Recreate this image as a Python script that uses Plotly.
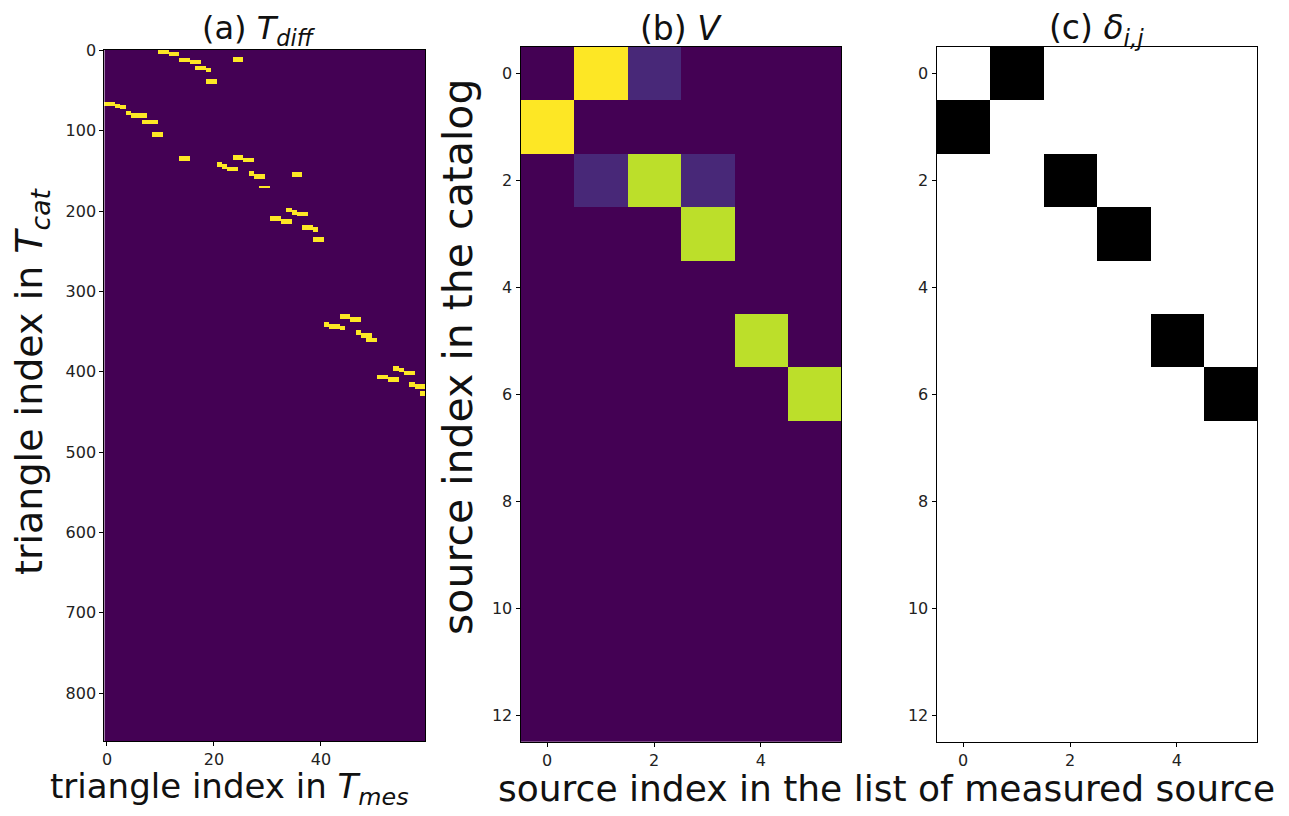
import numpy as np
import plotly.graph_objects as go

# ---------------- data ----------------
# (a) T_diff : 860 catalog triangles x 60 measured triangles, matches drawn as segments
n_cat_tri = 860
n_mes_tri = 60
seg_col_start = [10, 12, 14, 16, 17, 19, 19, 24, 0, 2, 3, 4, 5, 7, 9, 14, 24, 26, 21, 22, 23,
                 27, 28, 29, 35, 34, 35, 36, 31, 33, 37, 39, 39, 44, 46, 41, 42, 44, 47, 48,
                 49, 54, 55, 56, 51, 53, 57, 58, 59]
seg_col_end = [11, 13, 15, 17, 18, 19, 20, 25, 1, 2, 3, 4, 7, 9, 10, 15, 25, 27, 21, 22, 24,
               27, 29, 30, 36, 34, 35, 37, 32, 34, 38, 39, 40, 45, 47, 41, 43, 44, 47, 49,
               50, 54, 55, 57, 52, 54, 57, 59, 59]
seg_row_start = [0, 2, 10, 13, 20, 23, 36, 9, 65, 67, 69, 76, 79, 87, 102, 132, 131, 134, 139, 142, 145,
                 151, 154, 169, 152, 197, 199, 201, 207, 210, 218, 220, 233, 329, 332, 339, 341, 344, 349, 352,
                 358, 393, 396, 399, 404, 407, 413, 416, 424]
seg_row_end = [4, 6, 14, 17, 24, 27, 41, 14, 69, 71, 73, 80, 84, 91, 107, 137, 136, 139, 144, 147, 150,
               156, 159, 171, 157, 200, 204, 206, 212, 215, 223, 225, 238, 334, 337, 344, 346, 348, 354, 357,
               363, 398, 400, 404, 409, 412, 418, 421, 429]
seg_value = [1.0] * len(seg_col_start)

# (b) V : 13 catalog sources x 6 measured sources
V = [
    [0.0, 1.0, 0.11, 0.0, 0.0, 0.0],
    [1.0, 0.0, 0.0, 0.0, 0.0, 0.0],
    [0.0, 0.11, 0.9, 0.11, 0.0, 0.0],
    [0.0, 0.0, 0.0, 0.9, 0.0, 0.0],
    [0.0, 0.0, 0.0, 0.0, 0.0, 0.0],
    [0.0, 0.0, 0.0, 0.0, 0.9, 0.0],
    [0.0, 0.0, 0.0, 0.0, 0.0, 0.9],
    [0.0, 0.0, 0.0, 0.0, 0.0, 0.0],
    [0.0, 0.0, 0.0, 0.0, 0.0, 0.0],
    [0.0, 0.0, 0.0, 0.0, 0.0, 0.0],
    [0.0, 0.0, 0.0, 0.0, 0.0, 0.0],
    [0.0, 0.0, 0.0, 0.0, 0.0, 0.0],
    [0.0, 0.0, 0.0, 0.0, 0.0, 0.0],
]

# (c) delta_{i,j}
delta = [
    [0, 1, 0, 0, 0, 0],
    [1, 0, 0, 0, 0, 0],
    [0, 0, 1, 0, 0, 0],
    [0, 0, 0, 1, 0, 0],
    [0, 0, 0, 0, 0, 0],
    [0, 0, 0, 0, 1, 0],
    [0, 0, 0, 0, 0, 1],
    [0, 0, 0, 0, 0, 0],
    [0, 0, 0, 0, 0, 0],
    [0, 0, 0, 0, 0, 0],
    [0, 0, 0, 0, 0, 0],
    [0, 0, 0, 0, 0, 0],
    [0, 0, 0, 0, 0, 0],
]

a_xticks = [0, 20, 40]
a_yticks = [0, 100, 200, 300, 400, 500, 600, 700, 800]
bc_xticks = [0, 2, 4]
bc_yticks = [0, 2, 4, 6, 8, 10, 12]

# build T_diff matrix from segments
T_diff = np.zeros((n_cat_tri, n_mes_tri))
for c0, c1, r0, r1, v in zip(seg_col_start, seg_col_end, seg_row_start, seg_row_end, seg_value):
    T_diff[r0:r1 + 1, c0:c1 + 1] = v

# page is 1289x816; the html body has an 8px margin, so the figure is 16px smaller
OFF = 8
W, H = 1289 - 2 * OFF, 816 - 2 * OFF
FONT = "DejaVu Sans"

def px(x):
    return (x - OFF) / W

def py(y):
    return 1 - (y - OFF) / H

fig = go.Figure()

fig.add_trace(go.Heatmap(z=T_diff, x=np.arange(n_mes_tri), y=np.arange(n_cat_tri),
                         colorscale="Viridis", zmin=0, zmax=1, showscale=False,
                         xaxis="x", yaxis="y", hoverinfo="skip"))
fig.add_trace(go.Heatmap(z=V, x=np.arange(6), y=np.arange(13),
                         colorscale="Viridis", zmin=0, zmax=1, showscale=False,
                         xaxis="x2", yaxis="y2", hoverinfo="skip"))
fig.add_trace(go.Heatmap(z=delta, x=np.arange(6), y=np.arange(13),
                         colorscale=[[0, "#ffffff"], [1, "#000000"]], zmin=0, zmax=1, showscale=False,
                         xaxis="x3", yaxis="y3", hoverinfo="skip"))

axis_common = dict(showgrid=False, zeroline=False, showline=True, mirror=True,
                   linecolor="black", linewidth=1, ticks="outside", ticklen=4,
                   tickcolor="black", automargin=False,
                   tickfont=dict(family=FONT, size=16, color="#222"))

fig.update_layout(
    width=W, height=H,
    margin=dict(l=0, r=0, t=0, b=0, autoexpand=False),
    paper_bgcolor="white", plot_bgcolor="white",
    showlegend=False,
    xaxis=dict(domain=[px(104.3), px(425.3)], range=[-0.5, n_mes_tri - 0.5],
               tickvals=a_xticks, anchor="y", **axis_common),
    yaxis=dict(domain=[py(741), py(50)], range=[n_cat_tri - 0.5, -0.5],
               tickvals=a_yticks, anchor="x", **axis_common),
    xaxis2=dict(domain=[px(520.5), px(841)], range=[-0.5, 5.5],
                tickvals=bc_xticks, anchor="y2", **axis_common),
    yaxis2=dict(domain=[py(742), py(46.7)], range=[12.5, -0.5],
                tickvals=bc_yticks, anchor="x2", **axis_common),
    xaxis3=dict(domain=[px(936.5), px(1257)], range=[-0.5, 5.5],
                tickvals=bc_xticks, anchor="y3", **axis_common),
    yaxis3=dict(domain=[py(742), py(46.7)], range=[12.5, -0.5],
                tickvals=bc_yticks, anchor="x3", **axis_common),
)

def ann(text, x, y, size, angle=0, yanchor="middle"):
    fig.add_annotation(text=text, x=px(x), y=py(y), xref="paper", yref="paper",
                       showarrow=False, xanchor="center", yanchor=yanchor,
                       textangle=angle, font=dict(family=FONT, size=size, color="#111"))

ann("(a) <i>T</i><sub><i>diff</i></sub>", 259, 30, 32)
ann("(b) <i>V</i>", 680.7, 28, 33)
ann("(c) <i>δ</i><sub><i>i,j</i></sub>", 1096.7, 30, 33)
ann("triangle index in <i>T</i><sub><i>mes</i></sub>", 229, 788, 34)
ann("source index in the list of measured source", 886, 788, 36)
ann("triangle index in <i>T</i><sub><i>cat</i></sub>", 31, 382, 38, -90)
ann("source index in the catalog", 458, 357, 41, -90)

fig.write_html("out.html")
